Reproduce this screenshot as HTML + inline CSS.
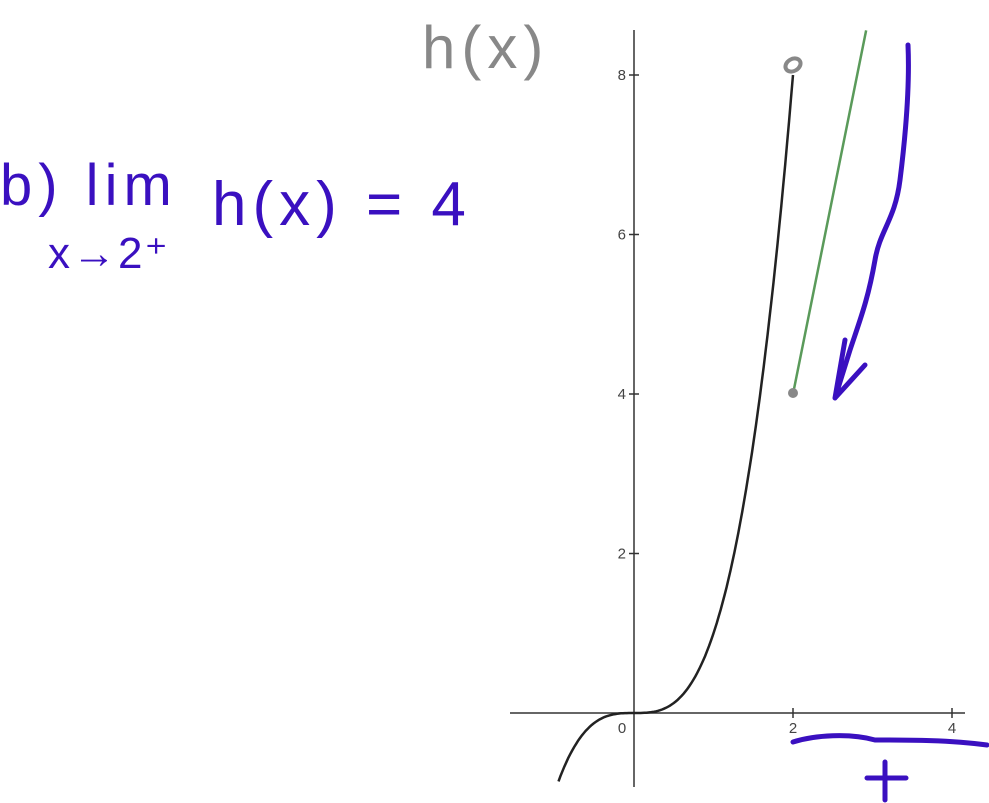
<!DOCTYPE html>
<html><head><meta charset="utf-8"><style>
body{margin:0;background:#fff;width:989px;height:803px;overflow:hidden;font-family:"Liberation Sans",sans-serif}
svg{position:absolute;left:0;top:0}
</style></head><body>
<svg id="c" width="989" height="803">
<g id="axes"></g>
<g id="marks"></g>
<g fill="none" stroke-linecap="round" stroke-linejoin="round">
<text x="422" y="68" font-size="60" fill="#888" letter-spacing="6" font-family="Liberation Sans, sans-serif">h(x)</text>
<text x="0" y="205" font-size="58" fill="#3a10c0" letter-spacing="6" font-family="Liberation Sans, sans-serif">b) lim</text>
<text x="48" y="268" font-size="44" fill="#3a10c0" letter-spacing="2" font-family="Liberation Sans, sans-serif">x→2⁺</text>
<text x="212" y="225" font-size="62" fill="#3a10c0" letter-spacing="6" font-family="Liberation Sans, sans-serif">h(x) = 4</text>
<path d="M908 45 C910 90 905 140 900 180 C895 220 880 230 875 260 C868 300 860 320 850 350 L835 398 M835 398 L865 365 M835 398 L845 340" stroke="#3a10c0" stroke-width="5"/>
<path d="M793 742 C815 735 850 733 875 740 C910 740 950 740 987 745" stroke="#3a10c0" stroke-width="5"/>
<path d="M867 778 L906 778 M885 762 L885 800" stroke="#3a10c0" stroke-width="5"/>
</g>
</svg>
<script>
const xTicks=[0,2,4];
const yTicks=[2,4,6,8];
const cubeDomain=[-0.95,2];
const lineXs=[2,2.92];
const lineYs=[4,8.56];
const openPoint=[2,8];
const closedPoint=[2,4];
const X=v=>634+v*79.5, Y=v=>713-v*79.75;
const NS="http://www.w3.org/2000/svg";
function mk(t,a,p){const e=document.createElementNS(NS,t);for(const k in a)e.setAttribute(k,a[k]);p.appendChild(e);return e;}
const ax=document.getElementById('axes'),mk2=document.getElementById('marks');
let xa=mk('line',{x1:510,y1:713,x2:965,y2:713,stroke:'#333','stroke-width':1.5},ax);


let ya=mk('line',{x1:634,y1:30,x2:634,y2:787,stroke:'#333','stroke-width':1.5},ax);


xTicks.forEach(v=>{
 if(v!==0){let t=mk('line',{x1:X(v),y1:708,x2:X(v),y2:718,stroke:'#333','stroke-width':1.5},ax);
 
 }
 let l=mk('text',{x:v===0?X(v)-12:X(v),y:733,'font-size':15,fill:'#444','text-anchor':'middle'},ax);l.textContent=v;
 
 
});
yTicks.forEach(v=>{
 let t=mk('line',{x1:629,y1:Y(v),x2:639,y2:Y(v),stroke:'#333','stroke-width':1.5},ax);
 
 
 let l=mk('text',{x:626,y:Y(v)+5,'font-size':15,fill:'#444','text-anchor':'end'},ax);l.textContent=v;
 
 
});
let d='';for(let i=0;i<=120;i++){const x=cubeDomain[0]+(cubeDomain[1]-cubeDomain[0])*i/120;d+=(i?'L':'M')+X(x).toFixed(1)+' '+Y(x*x*x).toFixed(1);}
let cp=mk('path',{d:d,fill:'none',stroke:'#222','stroke-width':2.5},mk2);


let gl=mk('line',{x1:X(lineXs[0]),y1:Y(lineYs[0]),x2:X(lineXs[1]),y2:Y(lineYs[1]),stroke:'#5a9a5a','stroke-width':2.5},mk2);


let op=mk('ellipse',{cx:X(openPoint[0]),cy:Y(openPoint[1])-10,rx:8,ry:6,fill:'none',stroke:'#888','stroke-width':4,transform:`rotate(-30 ${X(openPoint[0])} ${Y(openPoint[1])-10})`},mk2);


let cpt=mk('circle',{cx:X(closedPoint[0]),cy:Y(closedPoint[1])-1,r:5,fill:'#888'},mk2);


</script>
</body></html>
